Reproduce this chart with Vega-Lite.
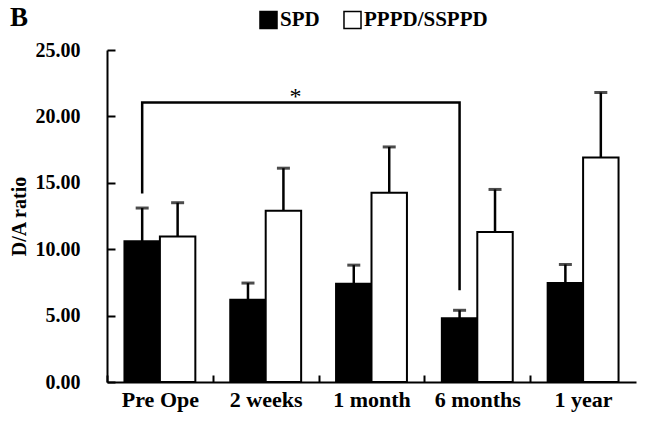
{
  "$schema": "https://vega.github.io/schema/vega-lite/v6.json",
  "width": 529,
  "height": 332,
  "autosize": {"type": "none"},
  "padding": {"left": 107, "top": 50, "right": 10, "bottom": 39},
  "background": "white",
  "config": {
    "view": {"stroke": null},
    "font": "Liberation Serif",
    "axis": {"domainColor": "black", "labelColor": "black", "titleColor": "black"}
  },
  "title": {
    "text": "B",
    "anchor": "start",
    "frame": "group",
    "dx": -97,
    "dy": 23,
    "fontSize": 27,
    "fontWeight": "bold",
    "font": "Liberation Serif",
    "color": "black",
    "offset": 0
  },
  "datasets": {
    "bars": [
      {"period": "Pre Ope", "group": "SPD", "value": 10.6, "err": 13.1},
      {"period": "Pre Ope", "group": "PPPD/SSPPD", "value": 10.95, "err": 13.5},
      {"period": "2 weeks", "group": "SPD", "value": 6.2, "err": 7.45},
      {"period": "2 weeks", "group": "PPPD/SSPPD", "value": 12.9, "err": 16.1},
      {"period": "1 month", "group": "SPD", "value": 7.4, "err": 8.8},
      {"period": "1 month", "group": "PPPD/SSPPD", "value": 14.25, "err": 17.7},
      {"period": "6 months", "group": "SPD", "value": 4.8, "err": 5.4},
      {"period": "6 months", "group": "PPPD/SSPPD", "value": 11.3, "err": 14.5},
      {"period": "1 year", "group": "SPD", "value": 7.45, "err": 8.85},
      {"period": "1 year", "group": "PPPD/SSPPD", "value": 16.9, "err": 21.8}
    ],
    "bracket": [
      {"period": "Pre Ope", "group": "SPD", "value": 14.2, "o": 1},
      {"period": "Pre Ope", "group": "SPD", "value": 21.05, "o": 2},
      {"period": "6 months", "group": "SPD", "value": 21.05, "o": 3},
      {"period": "6 months", "group": "SPD", "value": 6.9, "o": 4}
    ],
    "star": [
      {"period": "2 weeks", "group": "PPPD/SSPPD", "value": 21.05, "label": "*"}
    ]
  },
  "encoding": {
    "x": {
      "field": "period",
      "type": "nominal",
      "sort": ["Pre Ope", "2 weeks", "1 month", "6 months", "1 year"],
      "scale": {"paddingInner": 0.33, "paddingOuter": 0.165},
      "axis": {
        "title": null,
        "labelAngle": 0,
        "labelFont": "Liberation Serif",
        "labelFontSize": 22,
        "labelFontWeight": "bold",
        "labelPadding": 7,
        "ticks": false,
        "grid": true,
        "gridColor": "black",
        "gridWidth": 2,
        "gridOpacity": 1,
        "gridDash": [7, 2000],
        "gridDashOffset": 1682,
        "domainWidth": 2,
        "tickOffset": -52.9,
        "labelOffset": 52.9
      }
    },
    "xOffset": {
      "field": "group",
      "type": "nominal",
      "sort": ["SPD", "PPPD/SSPPD"],
      "scale": {"paddingInner": 0, "paddingOuter": 0}
    }
  },
  "layer": [
    {
      "data": {"name": "bars"},
      "mark": {"type": "rule", "color": "black", "strokeWidth": 2.5},
      "encoding": {
        "y": {"field": "value", "type": "quantitative"},
        "y2": {"field": "err"}
      }
    },
    {
      "data": {"name": "bars"},
      "mark": {"type": "tick", "color": "black", "size": 13, "thickness": 3},
      "encoding": {
        "y": {"field": "err", "type": "quantitative"}
      }
    },
    {
      "data": {"name": "bars"},
      "mark": {"type": "bar", "stroke": "black", "strokeWidth": 2},
      "encoding": {
        "y": {
          "field": "value",
          "type": "quantitative",
          "scale": {"domain": [0, 25], "nice": false},
          "axis": {
            "title": "D/A ratio",
            "values": [0, 5, 10, 15, 20, 25],
            "format": ".2f",
            "labelFont": "Liberation Serif",
            "labelFontSize": 20,
            "labelFontWeight": "bold",
            "labelPadding": 27,
            "ticks": false,
            "grid": true,
            "gridColor": "black",
            "gridWidth": 2,
            "gridOpacity": 1,
            "gridDash": [8, 2000],
            "domainWidth": 2,
            "titleFont": "Liberation Serif",
            "titleFontSize": 20,
            "titleFontWeight": "bold",
            "titlePadding": 6
          }
        },
        "fill": {
          "field": "group",
          "type": "nominal",
          "sort": ["SPD", "PPPD/SSPPD"],
          "scale": {"domain": ["SPD", "PPPD/SSPPD"], "range": ["black", "white"]},
          "legend": {
            "title": null,
            "orient": "none",
            "direction": "horizontal",
            "legendX": 151,
            "legendY": -41,
            "symbolType": "square",
            "symbolSize": 290,
            "symbolStrokeColor": "black",
            "symbolStrokeWidth": 1.5,
            "labelFont": "Liberation Serif",
            "labelFontSize": 21,
            "labelFontWeight": "bold",
            "labelColor": "black",
            "labelOffset": 1,
            "columnPadding": 20
          }
        }
      }
    },
    {
      "data": {"name": "bracket"},
      "mark": {"type": "line", "color": "black", "strokeWidth": 2.5},
      "encoding": {
        "y": {"field": "value", "type": "quantitative"},
        "order": {"field": "o", "type": "quantitative"}
      }
    },
    {
      "data": {"name": "star"},
      "mark": {"type": "text", "fontSize": 24, "font": "Liberation Serif", "color": "black", "baseline": "alphabetic", "dx": 12, "dy": 2},
      "encoding": {
        "y": {"field": "value", "type": "quantitative"},
        "text": {"field": "label"}
      }
    }
  ]
}
